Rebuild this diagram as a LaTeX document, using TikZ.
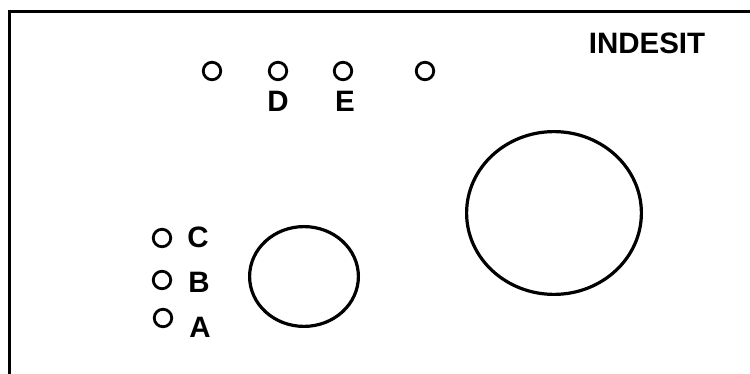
\documentclass[tikz,border=0pt]{standalone}
\usepackage{fontspec}
\setmainfont{Liberation Sans}
\usetikzlibrary{shapes.geometric}
\begin{document}
\begin{tikzpicture}[x=1pt,y=-1pt,
  knob/.style={circle, draw, minimum size=17.5pt, inner sep=0pt, line width=2.8pt},
  dial/.style={ellipse, draw, inner sep=0pt, line width=3.2pt},
  lbl/.style={font=\fontsize{29.5}{30}\selectfont\bfseries, inner sep=0pt}]
\useasboundingbox (0,0) rectangle (750,374);
\coordinate (bl) at (9.5,380);
\coordinate (tl) at (9.5,11.5);
\coordinate (tr) at (760,11.5);
\draw[line width=3pt] (bl) -- (tl) -- (tr);
% top row of knobs
\node[knob] (k1) at (212,71) {};
\node[knob] (k2) at (278,71) {};
\node[knob] (k3) at (343,71) {};
\node[knob] (k4) at (425,71) {};
\node[lbl] (D) at (278,101) {D};
\node[lbl] (E) at (345,101) {E};
% brand
\node[lbl] (brand) at (647,43) {INDESIT};
% left knobs
\node[knob] (kc) at (162,238) {};
\node[knob] (kb) at (162,280) {};
\node[knob] (ka) at (163,318) {};
\node[lbl] (C) at (198,237) {C};
\node[lbl] (B) at (199,282) {B};
\node[lbl] (A) at (200,327) {A};
% dials
\node[dial, minimum width=108.8pt, minimum height=99.8pt] (small) at (304,276.5) {};
\node[dial, minimum width=174.8pt, minimum height=162.8pt] (big) at (554,213) {};
\end{tikzpicture}
\end{document}
